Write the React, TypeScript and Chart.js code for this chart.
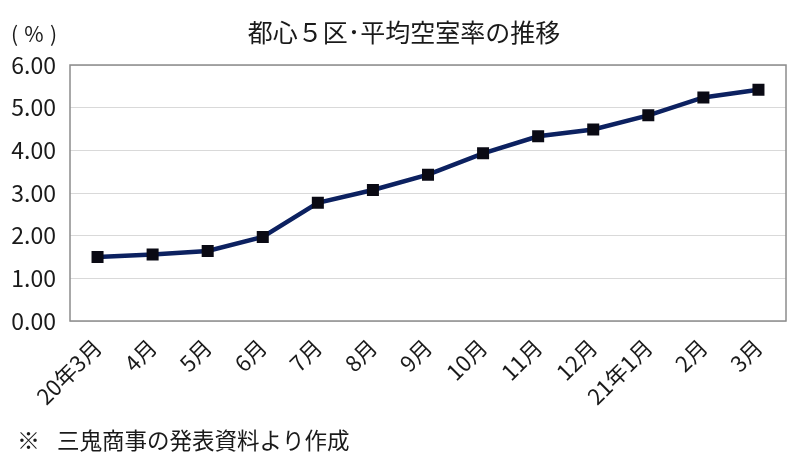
import React, { useEffect, useRef } from "react";
import { Chart, registerables } from "chart.js";

Chart.register(...registerables);

const categories = ["20年3月", "4月", "5月", "6月", "7月", "8月", "9月", "10月", "11月", "12月", "21年1月", "2月", "3月"];
const vacancyRate = [1.5, 1.56, 1.64, 1.97, 2.77, 3.07, 3.43, 3.93, 4.33, 4.49, 4.82, 5.24, 5.42];
const titleText = "都心５区･平均空室率の推移";
const noteMark = "※";
const noteText = "三鬼商事の発表資料より作成";

const FONT = "'Noto Sans CJK JP', 'Noto Sans', sans-serif";
const TEXT = "#1a1a1a";

const decor = {
  id: "decor",
  beforeDatasetsDraw(chart: any) {
    const { ctx, chartArea } = chart;
    ctx.save();
    ctx.strokeStyle = "#8c8c8c";
    ctx.lineWidth = 1.5;
    ctx.strokeRect(chartArea.left, chartArea.top, chartArea.right - chartArea.left, chartArea.bottom - chartArea.top);
    ctx.restore();
  },
  afterDraw(chart: any) {
    const { ctx } = chart;
    ctx.save();
    ctx.fillStyle = TEXT;
    ctx.textBaseline = "middle";
    ctx.textAlign = "center";
    ctx.font = `25px ${FONT}`;
    ctx.fillText(titleText, 404, 32);
    ctx.font = `21px ${FONT}`;
    ctx.textAlign = "left";
    ctx.fillText("(", 11, 34);
    ctx.textAlign = "center";
    ctx.fillText("%", 34, 34);
    ctx.textAlign = "right";
    ctx.fillText(")", 57, 34);
    ctx.textAlign = "left";
    ctx.font = `23px ${FONT}`;
    ctx.fillText(noteMark, 17, 440);
    ctx.font = `22.5px ${FONT}`;
    ctx.fillText(noteText, 57, 440);
    ctx.restore();
  },
};

export default function App() {
  const ref = useRef<HTMLCanvasElement | null>(null);
  useEffect(() => {
    if (!ref.current) return;
    const chart = new Chart(ref.current, {
      type: "line",
      data: {
        labels: categories,
        datasets: [
          {
            data: vacancyRate,
            borderColor: "#0c2160",
            borderWidth: 4.5,
            pointStyle: "rect",
            pointRadius: 8.5,
            pointHoverRadius: 8.5,
            pointBackgroundColor: "#0a0a14",
            pointBorderColor: "#0a0a14",
            pointBorderWidth: 0,
            tension: 0,
          },
        ],
      },
      options: {
        responsive: false,
        animation: false,
        layout: { padding: { top: 65, right: 14, left: 0, bottom: 0 } },
        plugins: { legend: { display: false }, title: { display: false }, tooltip: { enabled: false } },
        scales: {
          x: {
            offset: true,
            grid: { display: false, drawTicks: false },
            border: { display: false },
            ticks: {
              color: TEXT,
              font: { family: FONT, size: 22 },
              minRotation: 45,
              maxRotation: 45,
              padding: 13,
              autoSkip: false,
            },
            afterFit(scale: any) {
              scale.height = 137;
            },
          },
          y: {
            min: 0,
            max: 6,
            grid: { color: "#d9d9d9", lineWidth: 1, drawTicks: false },
            border: { display: false },
            ticks: {
              stepSize: 1,
              color: TEXT,
              font: { family: FONT, size: 23 },
              padding: 14,
              callback: (v: any) => Number(v).toFixed(2),
            },
            afterFit(scale: any) {
              scale.width = 70;
            },
          },
        },
      },
      plugins: [decor],
    });
    return () => chart.destroy();
  }, []);
  return (
    <div style={{ position: "absolute", left: 0, top: 0, width: 800, height: 458, background: "#fff" }}>
      <canvas ref={ref} width={800} height={458} />
    </div>
  );
}
